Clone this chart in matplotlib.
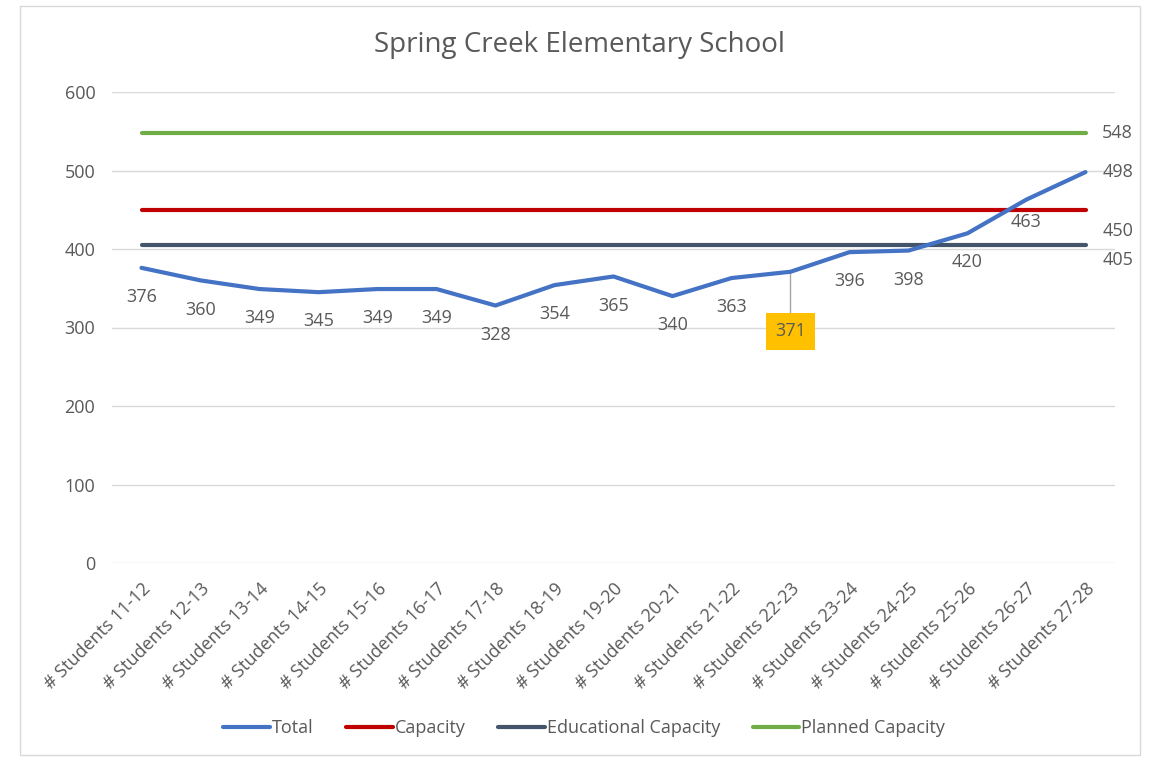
import matplotlib.pyplot as plt
from matplotlib.patches import Rectangle

years = ["11-12", "12-13", "13-14", "14-15", "15-16", "16-17", "17-18", "18-19",
         "19-20", "20-21", "21-22", "22-23", "23-24", "24-25", "25-26", "26-27", "27-28"]
categories = ["# Students " + y for y in years]
total = [376, 360, 349, 345, 349, 349, 328, 354, 365, 340, 363, 371, 396, 398, 420, 463, 498]
capacity = [450] * len(years)
educational = [405] * len(years)
planned = [548] * len(years)

plt.rcParams['font.family'] = ['Open Sans', 'DejaVu Sans']
txt = "#595959"
fs = 13

fig = plt.figure(figsize=(11.53, 7.61), dpi=100)
fig.patches.append(Rectangle((20 / 1153, 6 / 761), 1120 / 1153, 749 / 761, transform=fig.transFigure,
                             fill=False, edgecolor="#d9d9d9", linewidth=1))
ax = fig.add_axes([112 / 1153, 1 - 563 / 761, 1003 / 1153, 471 / 761])

x = list(range(len(years)))
ax.plot(x, planned, color="#70AD47", lw=3, solid_capstyle="round", label="Planned Capacity", zorder=3)
ax.plot(x, capacity, color="#C00000", lw=3, solid_capstyle="round", label="Capacity", zorder=3)
ax.plot(x, educational, color="#44546A", lw=3, solid_capstyle="round", label="Educational Capacity", zorder=3)
ax.plot(x, total, color="#4472C4", lw=3, solid_capstyle="round", label="Total", zorder=4)

ax.set_xlim(-0.5, len(years) - 0.5)
ax.set_ylim(0, 600)
ax.set_yticks(range(0, 601, 100))
ax.grid(axis="y", color="#d9d9d9", lw=1)
ax.set_axisbelow(True)
for s in ax.spines.values():
    s.set_visible(False)
ax.tick_params(length=0, colors=txt, labelsize=fs)
ax.tick_params(axis="y", pad=12)
ax.tick_params(axis="x", pad=12)
ax.set_xticks(x)
ax.set_xticklabels(categories, rotation=45, ha="right", rotation_mode="anchor")

# data labels for Total
for i, v in enumerate(total):
    if i == len(total) - 1:
        ax.annotate(str(v), (i, v), xytext=(12, 0), textcoords="offset points",
                    ha="left", va="center", color=txt, fontsize=fs)
    elif i == 11:
        ax.annotate(str(v), (i, v), xytext=(0, -43), textcoords="offset points",
                    ha="center", va="center", color=txt, fontsize=fs,
                    bbox=dict(boxstyle="square,pad=0.5", fc="#FFC000", ec="none"),
                    arrowprops=dict(arrowstyle="-", color="#a6a6a6", lw=1, shrinkA=0, shrinkB=0))
    else:
        off = -16 if i == 15 else -21
        ax.annotate(str(v), (i, v), xytext=(0, off), textcoords="offset points",
                    ha="center", va="center", color=txt, fontsize=fs)

last = len(years) - 1
ax.annotate(str(planned[-1]), (last, planned[-1]), xytext=(12, 0), textcoords="offset points",
            ha="left", va="center", color=txt, fontsize=fs)
ax.annotate(str(capacity[-1]), (last, capacity[-1]), xytext=(12, -15), textcoords="offset points",
            ha="left", va="center", color=txt, fontsize=fs)
ax.annotate(str(educational[-1]), (last, educational[-1]), xytext=(12, -11), textcoords="offset points",
            ha="left", va="center", color=txt, fontsize=fs)

fig.text(580 / 1153, 1 - 45 / 761, "Spring Creek Elementary School", ha="center", va="center",
         color=txt, fontsize=20)

h, l = ax.get_legend_handles_labels()
order = [3, 1, 2, 0]
fig.legend([h[k] for k in order], [l[k] for k in order], loc="center", ncol=4,
           bbox_to_anchor=(584 / 1153, 1 - 728 / 761), frameon=False, fontsize=fs,
           labelcolor=txt, handlelength=2.6, handletextpad=0.1, columnspacing=1.8)

fig.savefig("out.png", dpi=100)
